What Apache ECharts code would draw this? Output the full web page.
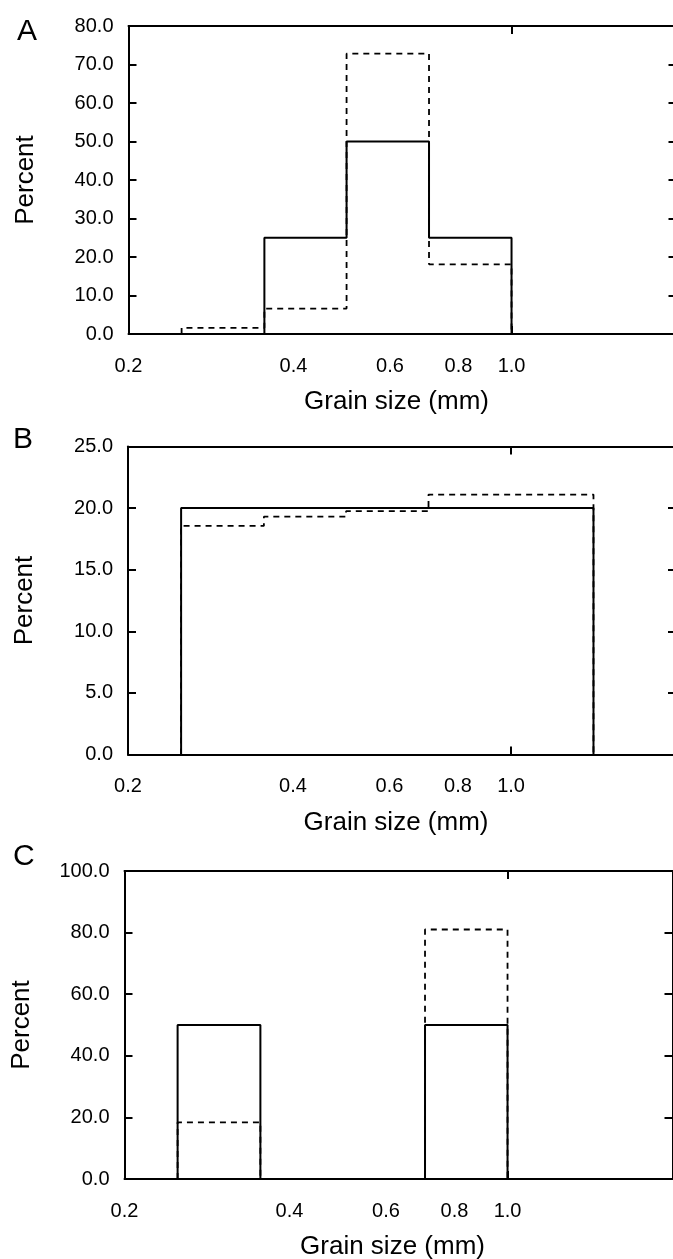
<!DOCTYPE html>
<html><head><meta charset="utf-8">
<script src="https://cdn.jsdelivr.net/npm/echarts@6/dist/echarts.min.js"></script>
<style>html,body{margin:0;padding:0;background:#fff}#c{width:673px;height:1259px}</style>
</head><body><div id="c"></div>
<script>
// Grain-size class edges (mm), half-phi classes
const binEdges = [0.25, 0.354, 0.5, 0.707, 1.0, 1.414];
const xTickLabels = [0.2, 0.4, 0.6, 0.8, 1.0];
const panelLetters = ['A', 'B', 'C'];
// Panel A (percent per class)
const aSolid = [0, 25, 50, 25, 0];
const aDashed = [1.6, 6.6, 72.8, 18.1, 0];
// Panel B
const bSolid = [20, 20, 20, 20, 20];
const bDashed = [18.55, 19.3, 19.75, 21.1, 21.1];
// Panel C
const cSolid = [50, 0, 0, 50, 0];
const cDashed = [18.4, 0, 0, 81.0, 0];
// Y axis ranges
const yMax = [80, 25, 100];
const yStep = [10, 5, 20];

const panels = [
  {solid: aSolid, dashed: aDashed, left: 128.5, top: 26},
  {solid: bSolid, dashed: bDashed, left: 128, top: 446.5},
  {solid: cSolid, dashed: cDashed, left: 124.5, top: 871}
];
const FONT = 'Liberation Sans';
const black = '#000';

function stepPath(vals) {
  const pts = [[binEdges[0], 0]];
  vals.forEach((v, i) => { pts.push([binEdges[i], v]); pts.push([binEdges[i + 1], v]); });
  pts.push([binEdges[vals.length], 0]);
  return pts;
}

const grid = [], xAxis = [], yAxis = [], series = [], title = [];
const letterPos = [[12, 12], [8, 420], [8, 837]];
panels.forEach((p, g) => {
  grid.push({left: p.left, top: p.top, width: 548, height: 308, containLabel: false, outerBoundsMode: 'none'});
  const lineS = {show: true, onZero: false, lineStyle: {color: black, width: 2}};
  const tickS = {show: true, inside: true, length: 8, lineStyle: {color: black, width: 2}};
  xAxis.push({
    type: 'log', logBase: 10, gridIndex: g, min: 0.2, max: 2, position: 'bottom',
    axisLine: lineS, axisTick: tickS, splitLine: {show: false}, minorTick: {show: false},
    axisLabel: {customValues: xTickLabels, formatter: v => Number(v).toFixed(1), margin: 22,
      fontSize: 20, color: black, fontFamily: FONT},
    name: 'Grain size (mm)', nameLocation: 'middle', nameGap: 55,
    nameTextStyle: {fontSize: 26, color: black, fontFamily: FONT, padding: [0, 12, 0, 0]}
  });
  xAxis.push({
    type: 'log', logBase: 10, gridIndex: g, min: 0.2, max: 2, position: 'top',
    axisLine: lineS, axisTick: tickS, splitLine: {show: false}, axisLabel: {show: false}
  });
  yAxis.push({
    type: 'value', gridIndex: g, min: 0, max: yMax[g], interval: yStep[g], position: 'left',
    axisLine: lineS, axisTick: tickS, splitLine: {show: false},
    axisLabel: {formatter: v => v.toFixed(1), margin: 15, fontSize: 20, color: black, fontFamily: FONT},
    name: 'Percent', nameLocation: 'middle', nameGap: 90,
    nameTextStyle: {fontSize: 26, color: black, fontFamily: FONT}
  });
  yAxis.push({
    type: 'value', gridIndex: g, min: 0, max: yMax[g], interval: yStep[g], position: 'right',
    axisLine: lineS, axisTick: tickS, splitLine: {show: false}, axisLabel: {show: false}
  });
  series.push({
    type: 'line', xAxisIndex: 2 * g, yAxisIndex: 2 * g, data: stepPath(p.dashed),
    symbol: 'none', silent: true, lineStyle: {color: black, width: 1.8, type: [6, 5]}
  });
  series.push({
    type: 'line', xAxisIndex: 2 * g, yAxisIndex: 2 * g, data: stepPath(p.solid),
    symbol: 'none', silent: true, lineStyle: {color: black, width: 2, type: 'solid'}
  });
  title.push({text: panelLetters[g], left: letterPos[g][0], top: letterPos[g][1],
    textStyle: {fontSize: 30, fontWeight: 'normal', color: black, fontFamily: FONT}});
});

const chart = echarts.init(document.getElementById('c'), null, {renderer: 'canvas'});
chart.setOption({animation: false, backgroundColor: '#fff', textStyle: {fontFamily: FONT},
  title, grid, xAxis, yAxis, series});
</script></body></html>
